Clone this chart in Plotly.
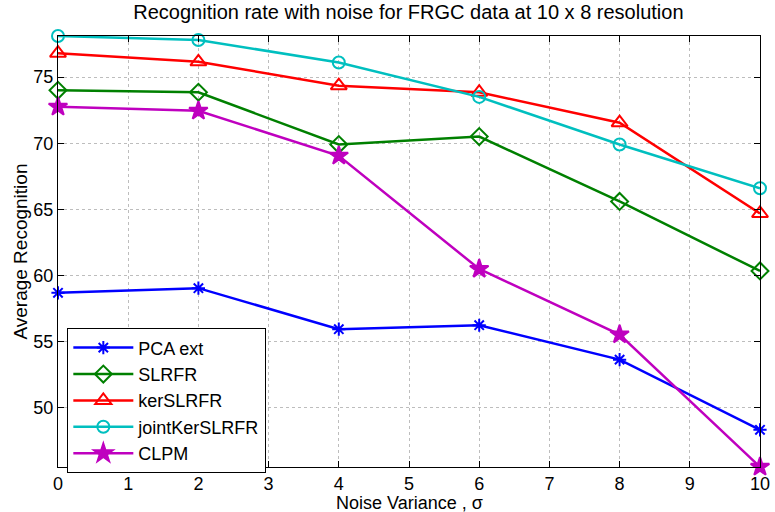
import plotly.graph_objects as go

# Noise variance levels (sigma)
noise = [0, 2, 4, 6, 8, 10]

# Average recognition (%) per method
pca_ext = [58.7, 59.05, 55.95, 56.25, 53.65, 48.35]
slrfr = [74.0, 73.85, 69.9, 70.5, 65.6, 60.35]
ker_slrfr = [76.8, 76.15, 74.35, 73.85, 71.55, 64.7]
joint_ker_slrfr = [78.1, 77.8, 76.1, 73.5, 69.9, 66.6]
clpm = [72.75, 72.45, 69.05, 60.5, 55.55, 45.55]

x_ticks = [0, 1, 2, 3, 4, 5, 6, 7, 8, 9, 10]
y_ticks = [50, 55, 60, 65, 70, 75]

series = [
    ("PCA ext", pca_ext, "#0000FF", "asterisk-open", 11),
    ("SLRFR", slrfr, "#008000", "diamond-open", 13),
    ("kerSLRFR", ker_slrfr, "#FF0000", "triangle-up-open", 14),
    ("jointKerSLRFR", joint_ker_slrfr, "#00BFBF", "circle-open", 12),
    ("CLPM", clpm, "#BF00BF", "star", 14),
]

FONT = "Liberation Sans, Arial, Helvetica, sans-serif"

fig = go.Figure()
for name, vals, color, symbol, size in series:
    fig.add_trace(go.Scatter(
        x=noise, y=vals, name=name, mode="lines+markers",
        line=dict(color=color, width=2.5),
        marker=dict(symbol=symbol, size=size, color=color,
                    line=dict(color=color, width=2)),
        cliponaxis=False,
    ))

axis_common = dict(
    showline=True, linecolor="black", linewidth=1.2, mirror="allticks",
    ticks="inside", ticklen=6, tickcolor="black", tickwidth=1,
    showgrid=True, gridcolor="#bdbdbd", griddash="dot", gridwidth=1,
    zeroline=False, automargin=False,
    tickfont=dict(family=FONT, size=18, color="black"),
)

fig.update_xaxes(range=[0, 10], tickvals=x_ticks, ticktext=[str(t) for t in x_ticks],
                 **axis_common)
fig.update_yaxes(range=[45.54, 78.1], tickvals=y_ticks, ticktext=[str(t) for t in y_ticks],
                 **axis_common)

fig.update_layout(
    width=775, height=512,
    margin=dict(l=58, r=15, t=36, b=45),
    paper_bgcolor="white", plot_bgcolor="white",
    font=dict(family=FONT, color="black"),
    title=dict(text="Recognition rate with noise for FRGC data at 10 x 8 resolution",
               x=0.527, xanchor="center", y=0.977, yanchor="middle",
               font=dict(family=FONT, size=20, color="black")),
    legend=dict(
        x=0.013, y=0.322, xanchor="left", yanchor="top",
        bgcolor="white", bordercolor="black", borderwidth=1.2,
        font=dict(family=FONT, size=18, color="black"),
        itemwidth=60, tracegroupgap=0,
    ),
    annotations=[
        dict(text="Noise Variance , σ", xref="paper", yref="paper",
             x=0.5, y=-0.084, xanchor="center", yanchor="middle",
             showarrow=False, font=dict(family=FONT, size=18, color="black")),
        dict(text="Average Recognition", xref="paper", yref="paper",
             x=-0.054, y=0.5, xanchor="center", yanchor="middle", textangle=-90,
             showarrow=False, font=dict(family=FONT, size=19, color="black")),
    ],
)

fig.write_html("out.html")
